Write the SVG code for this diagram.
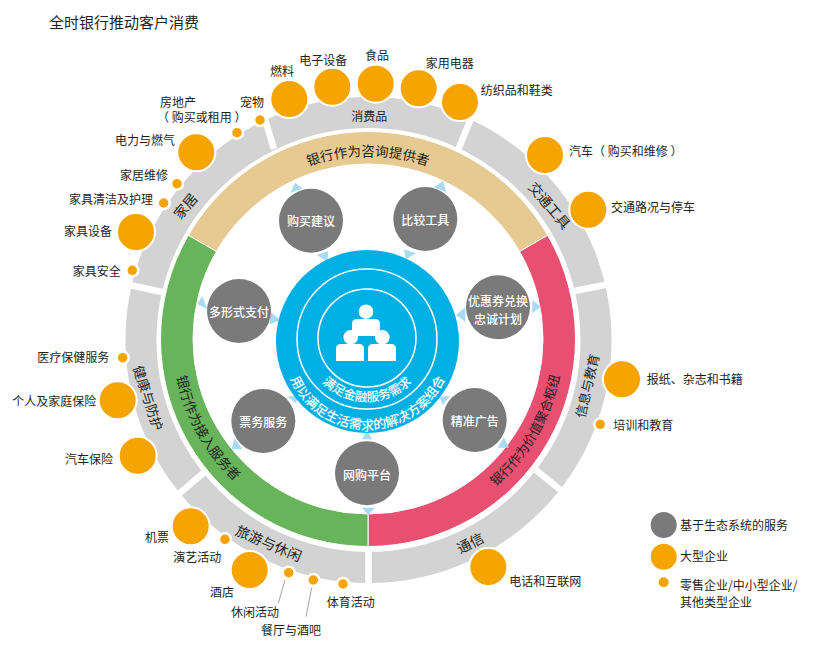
<svg xmlns="http://www.w3.org/2000/svg" width="813" height="672" viewBox="0 0 813 672">
<style>
text{font-family:"Noto Sans CJK SC","Noto Sans CJK TC","Liberation Sans",sans-serif;font-size:12px;fill:#231f20;dominant-baseline:central}
.c{text-anchor:middle}
.big{fill:#f5a400;stroke:#fff;stroke-width:2}
.sm{fill:#f5a400;stroke:#fff;stroke-width:2.5}
.g{fill:#7b7a7b}
.gt{fill:#fff;text-anchor:middle;font-size:12px;font-weight:500}
.tri{fill:#a8daf2}
.gap{stroke:#fff;stroke-width:6.5;fill:none}
.lead{stroke:#8a8a8a;stroke-width:.8;fill:none}
.w{fill:#fff;font-weight:500}
.b{dominant-baseline:auto}
.ring{fill:none;stroke:#fff;stroke-width:1.5}
</style>
<defs>
<path id="pTan" d="M 276.500 180.500 A 183 183 0 0 1 459.500 180.500"/>
<path id="pGreen" d="M 173 339 A 195 195 0 0 0 264.700 504.400"/>
<path id="pPink" d="M 465.500 507.900 A 195 195 0 0 0 563 339"/>
<path id="pB1" d="M 304.500 339 A 62.500 62.500 0 0 0 429.500 339"/>
<path id="pB2" d="M 283 345 A 84.500 84.500 0 0 0 452 345"/>
</defs>
<rect width="813" height="672" fill="#fff"/>
<text x="49" y="21" style="font-size:15px">全时银行推动客户消费</text>
<g id="rings">
<circle cx="368.500" cy="340" r="227.500" fill="none" stroke="#d3d3d3" stroke-width="31"/>
<path class="gap" d="M274 149 L264.500 118"/>
<path class="gap" d="M458.500 149 L472 116"/>
<path class="gap" d="M574 291 L610 284"/>
<path class="gap" d="M534 468.500 L563 492"/>
<path class="gap" d="M368.500 550 V586"/>
<path class="gap" d="M204 472.500 L177 495.500"/>
<path class="gap" d="M162 292 L127 284.500"/>
<path d="M188.300 235.250 A207.500 207.500 0 0 1 547.700 235.250 L519.600 251.500 A175 175 0 0 0 216.400 251.500 Z" fill="#e6ca91" stroke="#fff" stroke-width="1"/>
<path d="M547.700 235.250 A207.500 207.500 0 0 1 368 546.500 L368 514 A175 175 0 0 0 519.600 251.500 Z" fill="#e85071" stroke="#fff" stroke-width="1"/>
<path d="M368 546.500 A207.500 207.500 0 0 1 188.300 235.250 L216.400 251.500 A175 175 0 0 0 368 514 Z" fill="#68b45a" stroke="#fff" stroke-width="1"/>
</g>
<g id="ring-labels">
<text style="font-size:13.500px" class="b"><textPath href="#pTan" startOffset="50%" text-anchor="middle">银行作为咨询提供者</textPath></text>
<text style="font-size:13.500px" class="b"><textPath href="#pGreen" startOffset="50%" text-anchor="middle">银行作为接入服务者</textPath></text>
<text style="font-size:13px" class="b"><textPath href="#pPink" startOffset="50%" text-anchor="middle">银行作为价值聚合枢纽</textPath></text>
<text class="c" x="369.300" y="115">消费品</text>
<text class="c" style="font-size:14px" transform="translate(185 205.700) rotate(-50)">家居</text>
<text class="c" style="font-size:14px" transform="translate(550 205) rotate(50)">交通工具</text>
<text class="c" style="font-size:13px" transform="translate(586.700 385.700) rotate(-77)">信息与教育</text>
<text class="c" style="font-size:14px" transform="translate(470 542.300) rotate(-27)">通信</text>
<text class="c" style="font-size:14px" transform="translate(269 542.700) rotate(23)">旅游与休闲</text>
<text class="c" style="font-size:13.500px" transform="translate(149 397.700) rotate(72)">健康与防护</text>
</g>
<g id="connectors">
<path class="lead" d="M285 580 L278.300 603.300"/>
<path class="lead" d="M311.700 587.700 L306 616.700"/>
<path class="tri" d="M290.300 193.300 L295 182.700 L302.700 188.300Z"/>
<path class="tri" d="M316.700 255 L328.300 251 L327.700 261.700Z"/>
<path class="tri" d="M434 187.300 L443.300 180.700 L446 192.300Z"/>
<path class="tri" d="M404 249.300 L416 253.300 L405.700 259.300Z"/>
<path class="tri" d="M270 311.700 L280.700 320 L270 324.300Z"/>
<path class="tri" d="M202.300 296 L207.300 309.300 L197.300 304Z"/>
<path class="tri" d="M465.300 307.300 L456 315 L465.300 321.700Z"/>
<path class="tri" d="M532.300 300 L541 306.700 L532.300 313.300Z"/>
<path class="tri" d="M287.300 396.700 L298.300 395 L296 403.300Z"/>
<path class="tri" d="M234.300 438.300 L242.700 449.300 L231.700 449.300Z"/>
<path class="tri" d="M439.300 396.700 L450 396 L442.700 405Z"/>
<path class="tri" d="M504 437.300 L509 447.700 L497.300 447.700Z"/>
<path class="tri" d="M367 430.700 L361.700 439.300 L372.300 439.300Z"/>
<path class="tri" d="M361.700 507.700 L375 507.700 L368.300 515Z"/>
</g>
<g id="hub">
<circle cx="367.500" cy="341.500" r="91.500" fill="#00b0e4"/>
<circle class="ring" cx="367" cy="339" r="70"/>
<circle class="ring" cx="367" cy="338" r="49"/>
<g fill="#fff">
<circle cx="366" cy="311.700" r="7.300"/>
<path d="M352 336 V324 Q352 319 357 319 H375 Q380 319 380 324 V330 Q380 336 374 336 Z"/>
<circle cx="350.700" cy="337.300" r="7.300"/>
<path d="M336 361 V349 Q336 344 341 344 H359 Q364 344 364 349 V361 Z"/>
<circle cx="382.300" cy="337.300" r="7.300"/>
<path d="M368 361 V349 Q368 344 373 344 H391 Q396 344 396 349 V361 Z"/>
</g>
<text class="w b" style="font-size:12.500px"><textPath href="#pB1" startOffset="50%" text-anchor="middle" fill="#fff">满足金融服务需求</textPath></text>
<text class="w b" style="font-size:13px"><textPath href="#pB2" startOffset="50%" text-anchor="middle" fill="#fff">用以满足生活需求的解决方案组合</textPath></text>
</g>
<g id="service-gouwu"><circle class="g" cx="311" cy="220.700" r="32"/><text class="gt" x="311" y="220.700">购买建议</text></g>
<g id="service-bijiao"><circle class="g" cx="425.300" cy="219" r="32"/><text class="gt" x="425.300" y="219">比较工具</text></g>
<g id="service-youhui"><circle class="g" cx="498" cy="307.300" r="32"/><text class="gt" x="498" y="300">优惠券兑换</text><text class="gt" x="498" y="318">忠诚计划</text></g>
<g id="service-zhifu"><circle class="g" cx="239" cy="311" r="32"/><text class="gt" x="239" y="311">多形式支付</text></g>
<g id="service-piaowu"><circle class="g" cx="263.300" cy="421" r="32"/><text class="gt" x="263.300" y="421">票务服务</text></g>
<g id="service-wanggou"><circle class="g" cx="367" cy="473.300" r="32"/><text class="gt" x="367" y="474">网购平台</text></g>
<g id="service-guanggao"><circle class="g" cx="474.700" cy="420" r="32"/><text class="gt" x="474.700" y="420.500">精准广告</text></g>
<g id="n-ranliao"><circle class="big" cx="289.300" cy="99" r="19"/><text x="270" y="70.700">燃料</text></g>
<g id="n-dianzi"><circle class="big" cx="332.300" cy="86.700" r="19"/><text x="299.300" y="59">电子设备</text></g>
<g id="n-shipin"><circle class="big" cx="375.700" cy="83.700" r="19"/><text x="365" y="54">食品</text></g>
<g id="n-jiayong"><circle class="big" cx="418.700" cy="88.300" r="19"/><text x="425.700" y="62.700">家用电器</text></g>
<g id="n-fangzhi"><circle class="big" cx="460" cy="102" r="19"/><text x="480.700" y="89">纺织品和鞋类</text></g>
<g id="n-qiche"><circle class="big" cx="545" cy="155" r="19"/><text x="569" y="150">汽车（ 购买和维修 ）</text></g>
<g id="n-jiaotong"><circle class="big" cx="588.300" cy="209.700" r="19"/><text x="611" y="206">交通路况与停车</text></g>
<g id="n-baozhi"><circle class="big" cx="622" cy="379.300" r="19"/><text x="646.700" y="378.700">报纸、杂志和书籍</text></g>
<g id="n-peixun"><circle class="sm" cx="600.300" cy="424.300" r="6"/><text x="613.300" y="424.700">培训和教育</text></g>
<g id="n-dianhua"><circle class="big" cx="488.300" cy="567" r="19"/><text x="509.300" y="580.700">电话和互联网</text></g>
<g id="n-jipiao"><circle class="big" cx="190.700" cy="526.300" r="19"/><text x="145" y="536">机票</text></g>
<g id="n-yanyi"><circle class="sm" cx="225" cy="539.300" r="6"/><text x="173.300" y="556">演艺活动</text></g>
<g id="n-jiudian"><circle class="big" cx="249.700" cy="570" r="19"/><text x="210" y="591.700">酒店</text></g>
<g id="n-xiuxian"><circle class="sm" cx="288.700" cy="572.700" r="6"/><text x="231" y="611.700">休闲活动</text></g>
<g id="n-canting"><circle class="sm" cx="313.300" cy="580" r="6"/><text x="261" y="629">餐厅与酒吧</text></g>
<g id="n-tiyu"><circle class="sm" cx="343" cy="584" r="6"/><text x="326.700" y="601">体育活动</text></g>
<g id="n-baoxian"><circle class="big" cx="137.700" cy="455.700" r="19"/><text x="65" y="458.700">汽车保险</text></g>
<g id="n-geren"><circle class="big" cx="117.700" cy="400.300" r="19"/><text x="12.300" y="400.700">个人及家庭保险</text></g>
<g id="n-yiliao"><circle class="sm" cx="122.700" cy="357.700" r="6"/><text x="37.300" y="356.700">医疗保健服务</text></g>
<g id="n-anquan"><circle class="sm" cx="132.300" cy="270.300" r="6"/><text x="72.700" y="270.700">家具安全</text></g>
<g id="n-shebei"><circle class="big" cx="136" cy="232" r="19"/><text x="64" y="230.700">家具设备</text></g>
<g id="n-qingjie"><circle class="sm" cx="163.700" cy="203" r="6"/><text x="69" y="198.300">家具清洁及护理</text></g>
<g id="n-weixiu"><circle class="sm" cx="177" cy="183.700" r="6"/><text x="120" y="174">家居维修</text></g>
<g id="n-dianli"><circle class="big" cx="196.300" cy="152.300" r="19"/><text x="115" y="139.300">电力与燃气</text></g>
<g id="n-fangdichan"><circle class="sm" cx="237" cy="132.700" r="6"/><text x="160" y="101">房地产</text><text x="157" y="116">（ 购买或租用 ）</text></g>
<g id="n-chongwu"><circle class="sm" cx="260" cy="120" r="6"/><text x="240" y="101.700">宠物</text></g>
<g id="legend">
<circle class="g" cx="663.700" cy="525" r="13"/><text x="680" y="524.700">基于生态系统的服务</text>
<circle cx="663.700" cy="556.700" r="13" fill="#f5a400"/><text x="680" y="555">大型企业</text>
<circle cx="663.700" cy="582.300" r="5" fill="#f5a400"/><text x="680" y="584">零售企业/中小型企业/</text><text x="680" y="601">其他类型企业</text>
</g>
</svg>
